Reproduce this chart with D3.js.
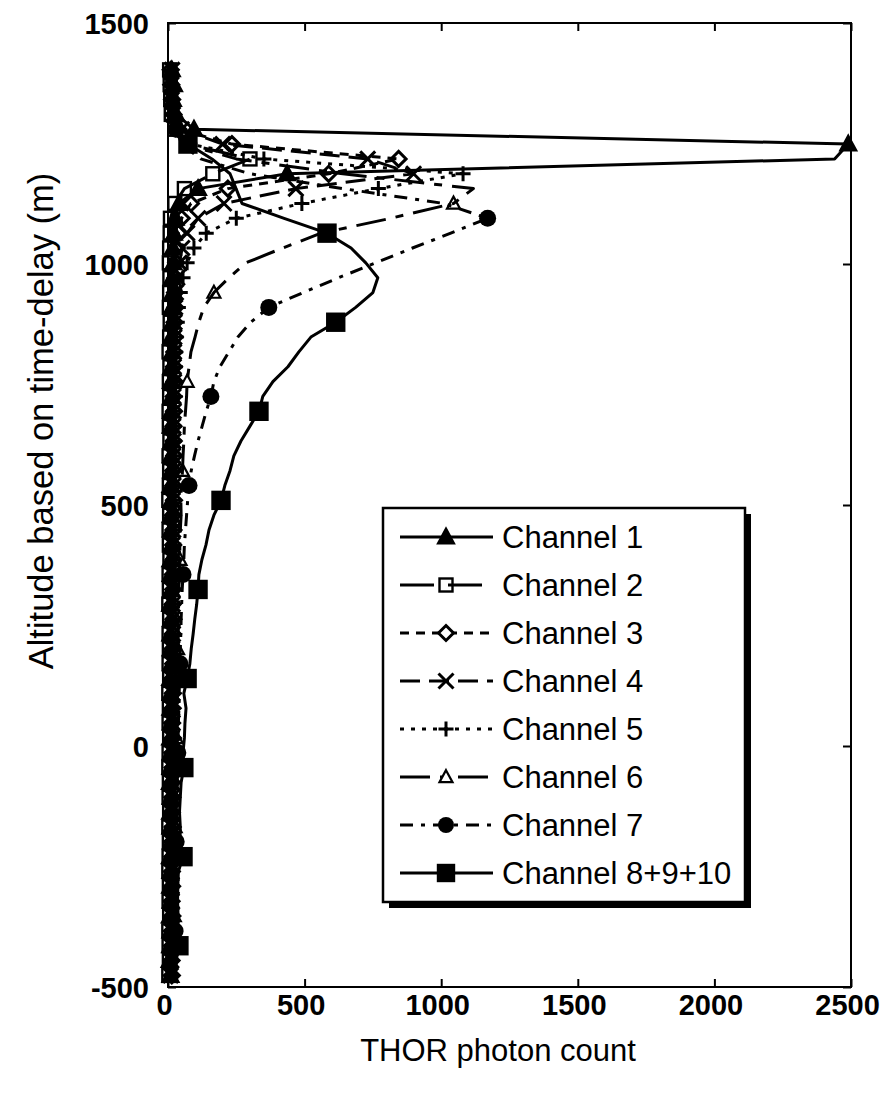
<!DOCTYPE html>
<html><head><meta charset="utf-8">
<script src="https://cdn.jsdelivr.net/npm/d3@7"></script>
<style>body{margin:0;background:#fff} svg{display:block} text{font-family:"Liberation Sans",Arial,sans-serif;fill:#000}</style>
</head><body><svg id="chart" width="887" height="1100"></svg>
<script>
// altitude bins (m), top to bottom
const altitude = [1402.8,1372,1341.2,1310.4,1279.6,1248.8,1218,1187.2,1156.4,1125.6,1094.8,1064,1033.2,1002.4,971.6,940.8,910,879.2,848.4,817.6,786.8,756,725.2,694.4,663.6,632.8,602,571.2,540.4,509.6,478.8,448,417.2,386.4,355.6,324.8,294,263.2,232.4,201.6,170.8,140,109.2,78.4,47.6,16.8,-14,-44.8,-75.6,-106.4,-137.2,-168,-198.8,-229.6,-260.4,-291.2,-322,-352.8,-383.6,-414.4,-445.2,-476];

const channelNames = ["Channel 1","Channel 2","Channel 3","Channel 4","Channel 5","Channel 6","Channel 7","Channel 8+9+10"];

const ch1 = [14,22,18,30,95,2490,2440,436,110,40,28,22,18,20,15,17,14,16,12,15,13,11,14,12,10,13,11,12,9,12,10,11,13,9,10,12,8,11,9,10,12,8,10,9,11,8,10,9,7,10,8,9,11,7,9,8,10,7,9,8,6,9];
const ch2 = [6,8,10,12,25,70,300,164,60,25,9,8,6,5,7,6,5,8,6,4,7,5,6,4,5,7,4,6,5,3,6,4,5,7,4,5,3,6,4,5,4,6,3,5,4,6,4,3,5,4,6,3,5,4,3,5,4,6,3,4,5,3];
const ch3 = [10,12,15,20,38,234,844,588,219,84,50,38,32,30,28,26,27,24,25,23,22,24,21,22,20,21,23,19,20,22,18,20,19,21,18,19,17,20,18,17,19,16,18,17,15,18,16,17,15,16,14,17,15,16,14,15,13,16,14,15,13,14];
const ch4 = [15,12,14,18,50,200,731,899,468,205,110,70,52,42,34,29,26,24,23,22,21,22,20,21,19,20,18,19,20,17,18,19,16,18,17,15,17,16,18,15,16,14,16,15,17,14,15,13,15,14,12,14,13,15,12,13,14,12,13,11,12,10];
const ch5 = [8,10,12,16,30,80,351,1080,770,490,250,140,95,70,55,45,38,34,30,28,27,25,26,24,23,24,22,21,22,20,21,19,20,18,19,17,18,19,16,17,18,15,16,17,15,16,14,15,16,14,15,13,14,15,13,14,12,13,14,12,13,12];
const ch6 = [20,22,18,24,30,60,250,640,1118,1045,815,560,420,285,223,168,131,113,99,84,77,70,68,64,60,58,55,53,50,47,48,45,43,44,41,40,39,37,38,35,34,35,33,31,32,30,31,29,28,29,27,26,27,25,26,24,25,23,24,22,23,21];
const ch7 = [18,20,22,25,30,50,120,300,640,1010,1170,1035,895,760,625,495,369,303,256,223,190,168,157,140,125,110,97,85,77,72,68,64,60,58,55,52,50,48,47,45,44,42,41,40,38,37,36,35,34,33,32,31,30,30,29,28,27,27,26,25,25,24];
const ch8 = [18,20,22,25,30,73,161,227,249,271,425,582,670,724,768,750,687,614,523,479,439,384,347,333,300,267,241,227,208,194,168,150,139,124,113,110,105,98,92,85,80,70,58,66,62,60,55,58,48,45,42,45,44,55,38,36,35,37,34,40,30,25];

const xTicks = [0,500,1000,1500,2000,2500];
const yTicks = [-500,0,500,1000,1500];
const xTitle = "THOR photon count";
const yTitle = "Altitude based on time-delay (m)";

const seriesValues = [ch1,ch2,ch3,ch4,ch5,ch6,ch7,ch8];
const styles = [
  {dash:null, marker:"triFill", size:16, every:i=>i!==6},
  {dash:"34,14", marker:"sqOpen", size:13, every:()=>true},
  {dash:"9,7", marker:"diamond", size:15, every:()=>true},
  {dash:"20,9", marker:"x", size:15, every:()=>true},
  {dash:"4,7", marker:"plus", size:15, every:()=>true},
  {dash:"30,10,8,10", marker:"triOpen", size:13, every:i=>i%6===3},
  {dash:"13,8,4,8", marker:"circle", size:17, every:i=>i%6===4},
  {dash:null, marker:"sqFill", size:17, every:i=>i%6===5}
];

const svg = d3.select("#chart");
const x = d3.scaleLinear().domain([0,2500]).range([168,851]);
const y = d3.scaleLinear().domain([-500,1500]).range([987,23]);

function drawMarker(g, type, s, cx, cy, legend){
  const h = s/2;
  if(type==="triFill"||type==="triOpen"){
    g.append("path").attr("d",`M${cx},${cy-h*1.05}L${cx+h},${cy+h*0.8}L${cx-h},${cy+h*0.8}Z`)
      .attr("fill", type==="triFill"?"#000":(legend?"#fff":"none")).attr("stroke","#000").attr("stroke-width",2.2);
  } else if(type==="sqOpen"||type==="sqFill"){
    g.append("rect").attr("x",cx-h).attr("y",cy-h).attr("width",s).attr("height",s)
      .attr("fill", type==="sqFill"?"#000":"none").attr("stroke","#000").attr("stroke-width",2.4);
  } else if(type==="diamond"){
    g.append("path").attr("d",`M${cx},${cy-h}L${cx+h},${cy}L${cx},${cy+h}L${cx-h},${cy}Z`)
      .attr("fill",legend?"#fff":"none").attr("stroke","#000").attr("stroke-width",3);
  } else if(type==="x"){
    g.append("path").attr("d",`M${cx-h},${cy-h}L${cx+h},${cy+h}M${cx+h},${cy-h}L${cx-h},${cy+h}`)
      .attr("stroke","#000").attr("stroke-width",3).attr("fill","none");
  } else if(type==="plus"){
    g.append("path").attr("d",`M${cx-h},${cy}L${cx+h},${cy}M${cx},${cy-h}L${cx},${cy+h}`)
      .attr("stroke","#000").attr("stroke-width",3).attr("fill","none");
  } else if(type==="circle"){
    g.append("circle").attr("cx",cx).attr("cy",cy).attr("r",h).attr("fill","#000");
  }
}

// frame
svg.append("rect").attr("x",168).attr("y",23).attr("width",683).attr("height",964)
  .attr("fill","none").attr("stroke","#000").attr("stroke-width",2);

// axes (ticks inward)
const fmt = d => String(d);
const axB = svg.append("g").attr("transform","translate(0,987)")
  .call(d3.axisBottom(x).tickValues(xTicks).tickSize(-8).tickPadding(7).tickFormat(fmt));
const axT = svg.append("g").attr("transform","translate(0,23)")
  .call(d3.axisTop(x).tickValues(xTicks).tickSize(-8).tickFormat(""));
const axL = svg.append("g").attr("transform","translate(168,0)")
  .call(d3.axisLeft(y).tickValues(yTicks).tickSize(-8).tickPadding(19).tickFormat(fmt));
const axR = svg.append("g").attr("transform","translate(851,0)")
  .call(d3.axisRight(y).tickValues(yTicks).tickSize(-8).tickFormat(""));
[axB,axT,axL,axR].forEach(a=>{a.select(".domain").remove();a.selectAll("line").attr("stroke","#000").attr("stroke-width",2);});
axB.selectAll("text").attr("font-size",29).attr("font-weight","bold").attr("dx",-4).attr("font-family","Liberation Sans, Arial");
axL.selectAll("text").attr("font-size",29).attr("font-weight","bold").attr("font-family","Liberation Sans, Arial").attr("dy","0.35em");

// titles
svg.append("text").attr("x",498).attr("y",1061).attr("text-anchor","middle").attr("font-size",31).text(xTitle);
svg.append("text").attr("transform","translate(53,421) rotate(-90)").attr("text-anchor","middle").attr("font-size",34.5).text(yTitle);

// series
const line = d3.line().x(d=>x(d.v)).y(d=>y(d.a));
seriesValues.forEach((vals,k)=>{
  const st = styles[k];
  const pts = vals.map((v,i)=>({a:altitude[i],v:v,i:i}));
  const g = svg.append("g");
  g.append("path").attr("d",line(pts)).attr("fill","none").attr("stroke","#000")
    .attr("stroke-width",3).attr("stroke-dasharray",st.dash).attr("stroke-linejoin","round");
  pts.filter(p=>st.every(p.i)).forEach(p=>drawMarker(g,st.marker,st.size,x(p.v),y(p.a),false));
});

// legend
const lg = svg.append("g");
const lx=383, ly=508, lw=362, lh=394;
lg.append("rect").attr("x",lx+6).attr("y",ly+6).attr("width",lw).attr("height",lh).attr("fill","#000");
lg.append("rect").attr("x",lx).attr("y",ly).attr("width",lw).attr("height",lh).attr("fill","#fff").attr("stroke","#000").attr("stroke-width",2.5);
channelNames.forEach((name,k)=>{
  const st = styles[k];
  const cy = 537 + k*48;
  lg.append("line").attr("x1",400).attr("x2",493).attr("y1",cy).attr("y2",cy)
    .attr("stroke","#000").attr("stroke-width",3).attr("stroke-dasharray",st.dash);
  drawMarker(lg, st.marker, Math.min(st.size,16), 446, cy, true);
  lg.append("text").attr("x",502).attr("y",cy).attr("dy","0.36em").attr("font-size",31).text(name);
});
</script></body></html>
